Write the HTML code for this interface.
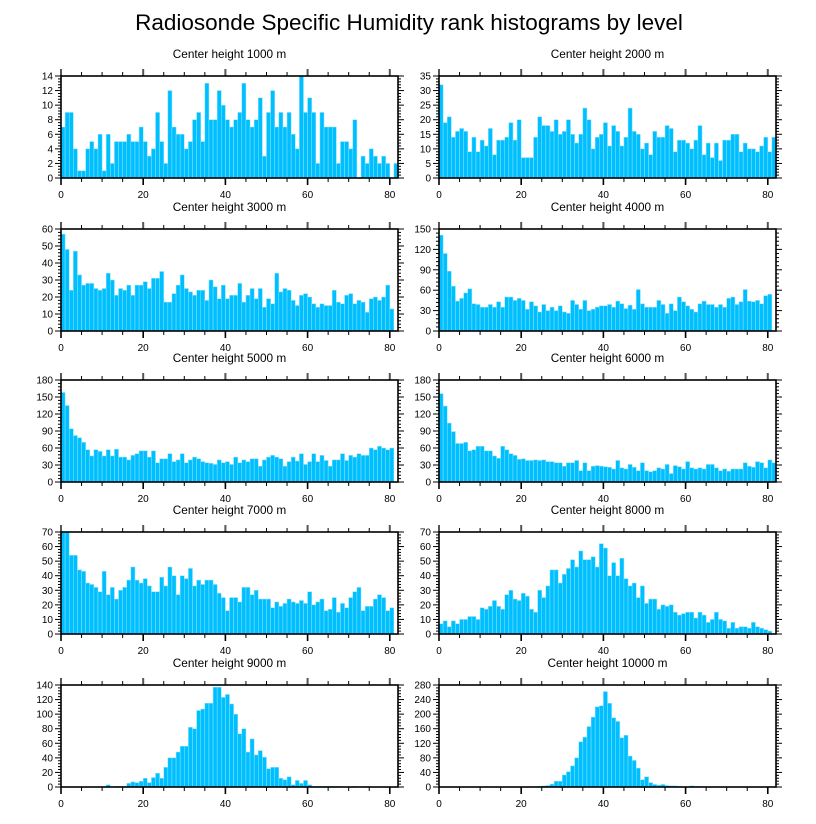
<!DOCTYPE html>
<html><head><meta charset="utf-8"><style>
html,body{margin:0;padding:0;background:#fff;}
svg{display:block;font-family:"Liberation Sans",sans-serif;}
</style></head><body>
<svg id="fig" width="816" height="824" viewBox="0 0 816 824">
<text x="409" y="30" text-anchor="middle" font-size="22.5" fill="#000">Radiosonde Specific Humidity rank histograms by level</text>
</svg>
<script>
const heights = [1000,2000,3000,4000,5000,6000,7000,8000,9000,10000];
const yMaxes = [14,35,60,150,180,180,70,70,140,280];
const ySteps = [2,5,10,30,30,30,10,10,20,40];
const xTicks = [0,20,40,60,80];
const p1 = [7,9,9,4,1,1,4,5,4,6,1,6,2,5,5,5,6,5,5,7,5,3,4,9,5,2,12,7,6,6,4,5,8,9,5,13,8,8,12,10,8,7,8,9,13,8,7,8,11,3,9,12,7,9,7,9,6,4,14,9,11,9,2,9,7,7,7,2,5,5,4,8,0,3,2,4,3,2,3,2,0,2];
const p2 = [32,19,21,14,16,17,16,9,14,9,13,11,17,8,13,13,14,19,13,20,7,7,7,14,21,18,18,16,20,15,16,20,15,12,15,24,20,10,14,15,19,11,18,16,11,14,24,16,15,10,12,8,16,14,14,18,17,9,13,13,12,10,13,18,8,12,7,12,6,13,13,15,15,9,12,10,10,9,11,14,9,14];
const p3 = [57,48,24,47,33,27,28,28,25,24,25,34,30,21,25,24,27,21,27,27,29,25,31,31,35,17,17,22,27,33,25,23,21,24,24,18,30,26,19,27,19,21,21,28,17,21,25,19,25,14,19,16,34,23,25,24,18,15,21,22,20,16,14,16,15,15,24,17,16,21,22,16,18,17,11,19,20,18,20,27,13];
const p4 = [141,114,88,66,44,48,56,62,40,39,35,35,39,35,43,35,50,50,45,48,45,32,43,37,28,39,30,35,30,37,28,26,45,39,32,45,30,32,35,37,37,39,35,44,40,33,38,32,61,40,35,35,35,45,39,26,40,30,50,43,37,32,28,40,44,39,39,35,39,35,48,50,39,43,61,44,43,45,40,52,54];
const p5 = [158,135,94,82,78,70,57,46,57,54,46,57,46,58,44,44,39,47,50,55,55,44,55,34,41,41,50,36,39,50,34,39,44,41,36,34,33,31,39,34,36,31,44,34,39,36,41,41,28,39,44,47,44,41,28,36,44,37,50,31,36,50,36,47,38,28,39,39,50,38,47,44,50,47,47,60,57,63,60,57,60];
const p6 = [156,134,104,89,68,68,70,55,57,63,63,55,55,46,42,63,57,50,47,40,41,38,38,39,38,39,36,36,34,34,28,34,34,38,20,34,20,28,29,28,27,26,23,38,25,23,31,26,20,34,20,18,20,25,23,31,15,29,27,23,36,25,23,25,23,31,31,25,20,23,19,23,23,23,34,28,26,36,34,25,39,34];
const p7 = [70,70,54,54,44,43,35,34,32,29,43,27,32,24,30,32,37,46,37,35,38,33,29,29,39,33,46,40,27,40,38,45,33,37,34,37,37,34,28,25,16,25,25,22,32,32,27,30,24,24,24,18,22,19,21,24,22,21,23,21,29,20,22,24,16,17,25,15,21,18,25,29,32,16,19,19,24,27,25,16,18];
const p8 = [7,9,5,9,7,10,10,12,12,10,18,17,19,23,19,17,27,30,24,23,28,26,17,15,30,25,33,44,44,35,41,45,51,46,57,51,51,53,46,62,59,40,49,40,52,38,33,35,25,33,21,24,24,17,20,19,20,15,13,14,15,15,11,15,13,8,10,15,10,9,4,8,4,5,5,4,8,5,4,3,2];
const p9 = [0,0,0,0,0,0,0,0,0,0,1,3,0,1,1,1,5,7,6,8,12,6,13,19,12,27,40,40,48,56,56,82,80,105,107,115,115,137,137,123,127,114,100,73,80,48,66,44,50,41,25,27,27,12,10,14,3,9,5,9,3,1,1,1,1,1,1,1,0,0,0,1,0,0,1,0,0,0,0,0,0,0];
const p10 = [0,0,0,0,0,0,0,0,0,0,0,0,0,0,0,0,0,0,0,0,0,1,1,1,2,3,4,8,16,16,33,42,58,80,124,137,166,192,220,223,262,230,190,180,135,142,85,73,52,20,28,12,7,5,7,4,3,3,2,1,1,3,2,1,1,1,1,1,0,0,0,0,0,0,0,0,0,0,0,0,0,0];
const series = [p1,p2,p3,p4,p5,p6,p7,p8,p9,p10];

const NS = "http://www.w3.org/2000/svg";
const svg = document.getElementById('fig');
const colLeft = [61,439], plotW = 337, plotH = 102;
const rowTop = [76,229,380,532,685];
const X_MAX = 82;
function mk(tag, attrs, parent){const e=document.createElementNS(NS,tag);for(const k in attrs)e.setAttribute(k,attrs[k]);(parent||svg).appendChild(e);return e;}

series.forEach((vals, p) => {
  const L = colLeft[p%2], T = rowTop[Math.floor(p/2)], B = T+plotH, R = L+plotW;
  const ymax = yMaxes[p], ystep = ySteps[p];
  const xs = v => L + v*plotW/X_MAX;
  const ys = v => B - v*plotH/ymax;
  const g = mk('g',{});
  
  
  const t = mk('text',{x:(L+R)/2,y:T-18,'text-anchor':'middle','font-size':'11.8',fill:'#000'},g);
  t.textContent = 'Center height ' + heights[p] + ' m';
  
  
  vals.forEach((v,i) => {
    if (v<=0) return;
    const r = mk('rect',{x:xs(i),y:ys(v),width:xs(i+1)-xs(i),height:B-ys(v),fill:'#00bfff',stroke:'#8fe3ff','stroke-width':'0.5'},g);
    
    
  });
  for (let v=0; v<=X_MAX; v+=5) {
    const major = v%20===0, len = major?7:4;
    mk('line',{x1:xs(v),x2:xs(v),y1:B,y2:B+len,stroke:'#000','stroke-width':major?1.6:1},g);
    mk('line',{x1:xs(v),x2:xs(v),y1:T,y2:T-len,stroke:major?'#555':'#000','stroke-width':major?2:1},g);
  }
  xTicks.forEach(v => {
    const tl = mk('text',{x:xs(v),y:B+20,'text-anchor':'middle','font-size':'10',fill:'#000'},g);
    tl.textContent = v;
    
    
  });
  const minor = ystep/5;
  for (let k=0; k*minor<=ymax+1e-9; k++) {
    const v = k*minor, major = k%5===0, len = major?6:3;
    mk('line',{x1:L,x2:L-len,y1:ys(v),y2:ys(v),stroke:'#000','stroke-width':1},g);
    mk('line',{x1:R,x2:R+len,y1:ys(v),y2:ys(v),stroke:'#000','stroke-width':1},g);
  }
  for (let v=0; v<=ymax; v+=ystep) {
    const yl = mk('text',{x:L-8,y:ys(v)+3.5,'text-anchor':'end','font-size':'10',fill:'#000'},g);
    yl.textContent = v;
    
    
  }
  const f = mk('rect',{x:L,y:T,width:plotW,height:plotH,fill:'none',stroke:'#000','stroke-width':1.6},g);
  
  
});
</script>
</body></html>
